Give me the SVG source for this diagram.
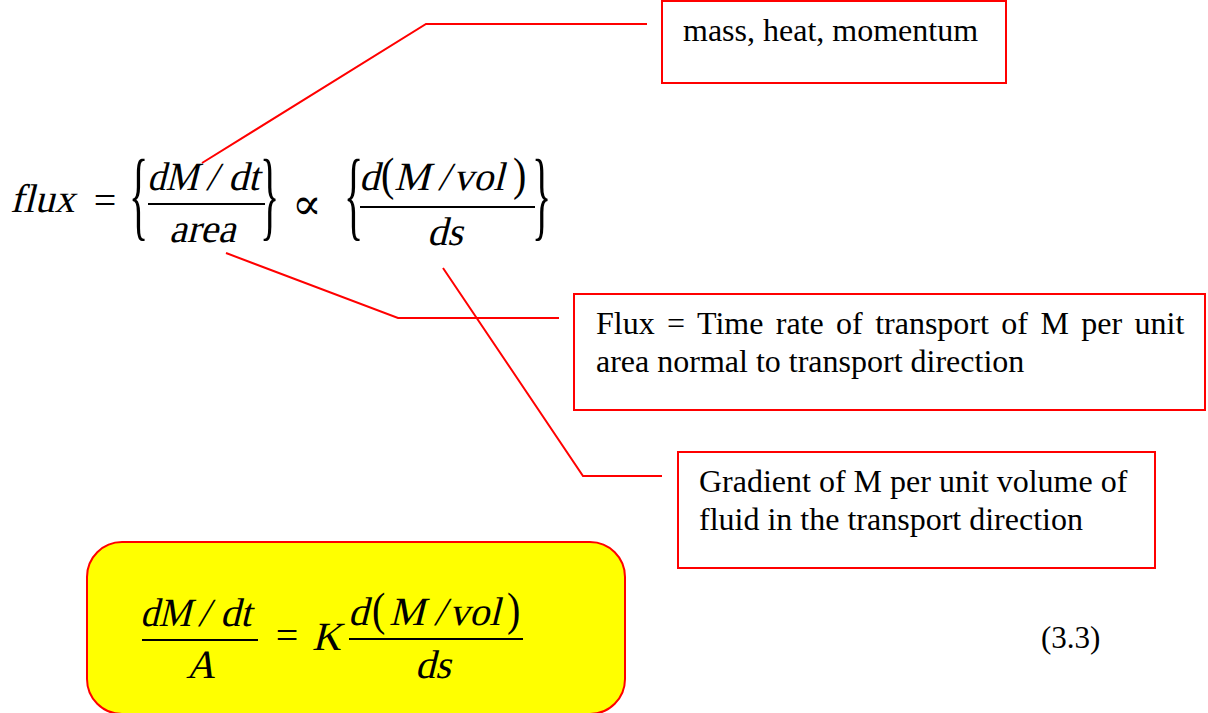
<svg xmlns="http://www.w3.org/2000/svg" width="1208" height="713" viewBox="0 0 1208 713">
<style>
.m{font-family:"Liberation Serif","Times New Roman",serif;font-style:normal;font-size:40px;fill:#000}
.u{font-family:"Liberation Serif","Times New Roman",serif;font-size:40px;fill:#000}
.sym{font-family:"DejaVu Serif","Liberation Serif",serif;font-size:44px;fill:#000}
.t{font-family:"Liberation Serif","Times New Roman",serif;font-size:32px;fill:#000}
.box{fill:#fff;stroke:#f00;stroke-width:2}
.conn{fill:none;stroke:#f00;stroke-width:2}
.bar{stroke:#000;stroke-width:2}
</style>
<rect width="1208" height="713" fill="#fff"/>

<g id="connectors">
<polyline class="conn" points="202,163 426,24 647,24"/>
<polyline class="conn" points="226,253 398,318 559,318"/>
<polyline class="conn" points="443,268 583,476 662,476"/>
</g>

<g id="equation-flux">
<g transform="translate(0,212) skewX(-14)"><text class="m" x="10" y="0">flux</text></g>
<text class="u" x="105" y="214" text-anchor="middle">=</text>
<text class="u" transform="translate(129,228) scale(1,2.5)">{</text>
<g transform="translate(0,190) skewX(-14)"><text class="m" y="0"><tspan x="147" textLength="51" lengthAdjust="spacingAndGlyphs">dM</tspan><tspan x="206">/</tspan><tspan x="228">dt</tspan></text></g>
<line class="bar" x1="148" y1="204" x2="265" y2="204"/>
<g transform="translate(0,242) skewX(-14)"><text class="m" x="169" y="0">area</text></g>
<text class="u" transform="translate(260,228) scale(1,2.5)">}</text>
<text class="sym" x="307" y="219" text-anchor="middle">∝</text>
<text class="u" transform="translate(344,228) scale(1,2.5)">{</text>
<g transform="translate(0,190) skewX(-14)"><text class="m" y="0"><tspan x="359">d</tspan><tspan x="394">M</tspan><tspan x="438">/</tspan><tspan x="453">vol</tspan></text></g>
<text class="u" transform="translate(381,190) scale(1,1.15)">(</text>
<text class="u" transform="translate(513,190) scale(1,1.15)">)</text>
<line class="bar" x1="360" y1="207" x2="535" y2="207"/>
<g transform="translate(0,245) skewX(-14)"><text class="m" x="427" y="0">ds</text></g>
<text class="u" transform="translate(532,228) scale(1,2.5)">}</text>
</g>

<g id="node-mass">
<rect class="box" x="662" y="1" width="344" height="82"/>
<text class="t" x="683" y="41">mass, heat, momentum</text>
</g>

<g id="node-flux">
<rect class="box" x="574" y="294" width="631" height="116"/>
<text class="t" x="596" y="334" word-spacing="4.4">Flux = Time rate of transport of M per unit</text>
<text class="t" x="596" y="372">area normal to transport direction</text>
</g>

<g id="node-gradient">
<rect class="box" x="678" y="452" width="477" height="116"/>
<text class="t" x="699" y="492">Gradient of M per unit volume of</text>
<text class="t" x="699" y="530">fluid in the transport direction</text>
</g>

<g id="node-equation">
<rect x="87" y="542" width="538" height="172" rx="35" ry="35" fill="#ffff00" stroke="#f00" stroke-width="2"/>
<g transform="translate(0,626) skewX(-14)"><text class="m" y="0"><tspan x="140" textLength="51" lengthAdjust="spacingAndGlyphs">dM</tspan><tspan x="198">/</tspan><tspan x="220">dt</tspan></text></g>
<line class="bar" x1="142" y1="640" x2="258" y2="640"/>
<g transform="translate(0,678) skewX(-14)"><text class="m" x="186" y="0">A</text></g>
<text class="u" x="287" y="649" text-anchor="middle">=</text>
<g transform="translate(0,650) skewX(-14)"><text class="m" x="312" y="0">K</text></g>
<g transform="translate(0,625) skewX(-14)"><text class="m" y="0"><tspan x="348">d</tspan><tspan x="389">M</tspan><tspan x="434">/</tspan><tspan x="449">vol</tspan></text></g>
<text class="u" transform="translate(372,625) scale(1,1.15)">(</text>
<text class="u" transform="translate(507,625) scale(1,1.15)">)</text>
<line class="bar" x1="349" y1="639" x2="523" y2="639"/>
<g transform="translate(0,678) skewX(-14)"><text class="m" x="415" y="0">ds</text></g>
</g>

<g id="label-eq-number">
<text class="u" x="1041" y="648" style="font-size:31px">(3.3)</text>
</g>
</svg>
